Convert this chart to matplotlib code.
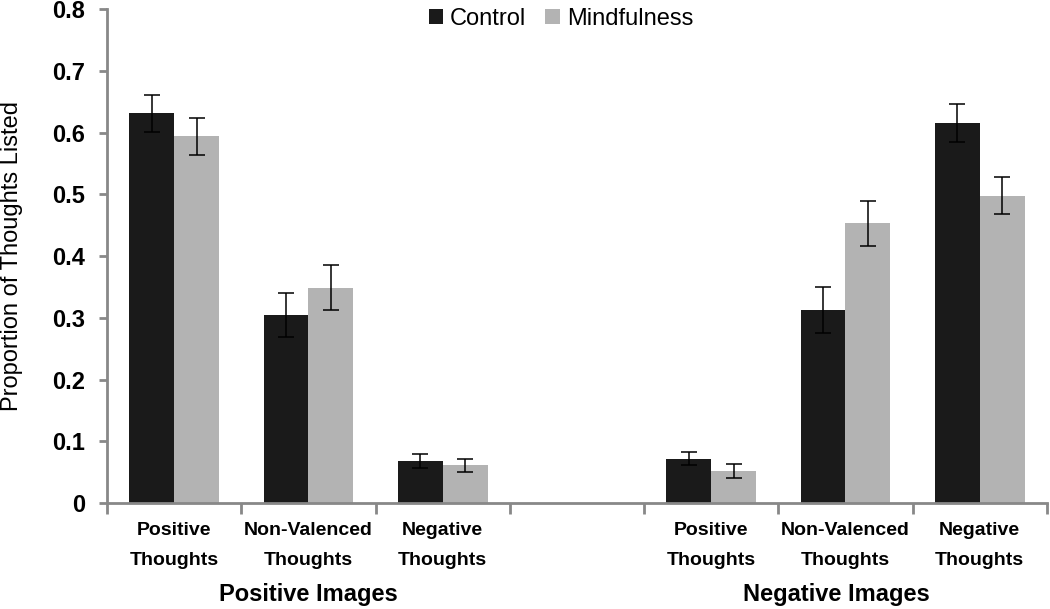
import matplotlib
matplotlib.use("Agg")
from matplotlib import pyplot as plt
import numpy as np

plt.rcParams['font.family'] = ['Liberation Sans', 'DejaVu Sans']

# ---- data
thought_labels = ["Positive\nThoughts", "Non-Valenced\nThoughts", "Negative\nThoughts",
                  "", "Positive\nThoughts", "Non-Valenced\nThoughts", "Negative\nThoughts"]
group_labels = ["Positive Images", "Negative Images"]
control = [0.631, 0.305, 0.068, np.nan, 0.072, 0.313, 0.615]
control_err = [0.030, 0.036, 0.011, np.nan, 0.010, 0.037, 0.031]
mindful = [0.594, 0.349, 0.061, np.nan, 0.052, 0.453, 0.498]
mindful_err = [0.030, 0.036, 0.011, np.nan, 0.012, 0.037, 0.030]

dark = "#1a1a1a"
light = "#b3b3b3"
axcol = "#888888"

fig = plt.figure(figsize=(10.5, 6.09), dpi=100)
ax = fig.add_axes([0.102, 0.174, 0.895, 0.811])

x = np.arange(len(thought_labels))
w = 0.335
ax.bar(x - w / 2, control, w, color=dark, label="Control", zorder=2)
ax.bar(x + w / 2, mindful, w, color=light, label="Mindfulness", zorder=2)
ax.errorbar(x - w / 2, control, yerr=control_err, fmt="none", ecolor="black",
            elinewidth=1.1, capsize=6, capthick=1.1, zorder=3)
ax.errorbar(x + w / 2, mindful, yerr=mindful_err, fmt="none", ecolor="black",
            elinewidth=1.1, capsize=6, capthick=1.1, zorder=3)

ax.set_xlim(-0.5, len(thought_labels) - 0.5)
ax.set_ylim(0, 0.8)
ax.set_yticks(np.arange(0, 0.81, 0.1))
ax.set_yticklabels(["0"] + ["%.1f" % v for v in np.arange(0.1, 0.81, 0.1)],
                   fontsize=17, fontweight="bold")

# boundary ticks as major, category names as minor
ax.set_xticks(np.arange(-0.5, len(thought_labels), 1.0))
ax.set_xticklabels([])
ax.set_xticks(x, minor=True)
ax.set_xticklabels(thought_labels, minor=True, fontsize=14, fontweight="bold")
for t in ax.get_xticklabels(minor=True):
    t.set_linespacing(2.0)
ax.tick_params(axis="x", which="minor", length=0, pad=14)
ax.tick_params(axis="x", which="major", length=8, width=2, color=axcol, direction="out")
ax.tick_params(axis="y", length=6, width=2, color=axcol, direction="out", pad=10)

for s in ["top", "right"]:
    ax.spines[s].set_visible(False)
for s in ["left", "bottom"]:
    ax.spines[s].set_color(axcol)
    ax.spines[s].set_linewidth(2)

ax.set_ylabel("Proportion of Thoughts Listed", fontsize=17, va="center")
ax.yaxis.set_label_coords(-0.101, 0.5)

ax.text(1.0, -0.185, group_labels[0], transform=ax.get_xaxis_transform(),
        ha="center", va="center", fontsize=17, fontweight="bold")
ax.text(4.93, -0.185, group_labels[1], transform=ax.get_xaxis_transform(),
        ha="center", va="center", fontsize=17, fontweight="bold")

leg = ax.legend(loc="upper center", bbox_to_anchor=(0.483, 1.045), ncol=2, frameon=False,
                fontsize=17, handlelength=0.6, handleheight=0.6, handletextpad=0.3,
                columnspacing=0.8)

plt.savefig("out.png", dpi=100)
